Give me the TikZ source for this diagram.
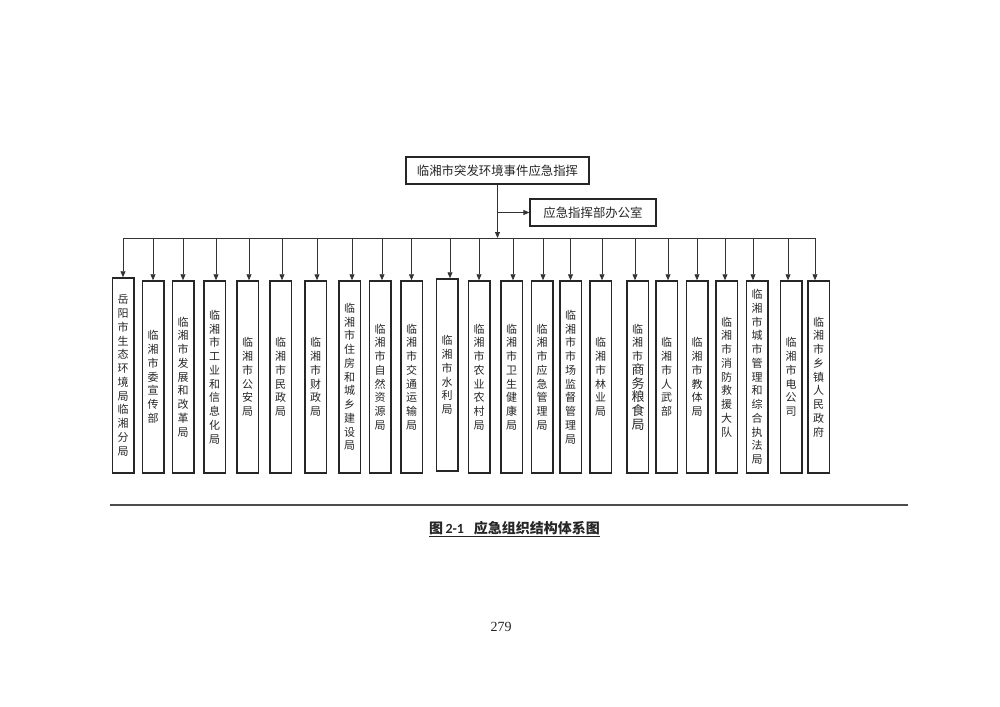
\documentclass[tikz,border=0pt]{standalone}
\usepackage{fontspec}
\usepackage{xcolor}
\usepackage{tikz}
\usetikzlibrary{arrows.meta}
\setmainfont{Liberation Serif}
\newfontfamily\cjk{Noto Sans CJK SC}
\newfontfamily\capfont{Carlito}
\XeTeXlinebreaklocale "zh"
\XeTeXlinebreakskip=0pt plus 1pt

\begin{document}
\begin{tikzpicture}[x=1pt,y=-1pt,
	head/.style={rectangle,draw=black!85,line width=1.2pt,minimum width=183pt,minimum height=27pt,font=\cjk\fontsize{12.4}{14}\selectfont,text=black!85},
	unit/.style={rectangle,draw=black!85,line width=1.5pt,minimum width=21.5pt,minimum height=192pt,inner sep=0pt,text width=12pt,align=center,font=\cjk\fontsize{11}{13.75}\selectfont,text=black!85},
	link/.style={draw=black!80,line width=0.8pt},
	feed/.style={link,-{Triangle[length=6pt,width=5pt]}}]
	\useasboundingbox (0,0) rectangle (1000,706);
	\node[head] (cmd) at (497.5,170.5) {临湘市突发环境事件应急指挥};
	\node[head,minimum width=126pt] (office) at (593,212.5) {应急指挥部办公室};
	\coordinate (bus) at (497.5,238);
	\node[unit,minimum height=195pt] (b1) at (123,375.5) {岳阳市生态环境局临湘分局};
	\node[unit] (b2) at (153,377) {临湘市委宣传部};
	\node[unit] (b3) at (183,377) {临湘市发展和改革局};
	\node[unit] (b4) at (214.5,377) {临湘市工业和信息化局};
	\node[unit] (b5) at (247.5,377) {临湘市公安局};
	\node[unit] (b6) at (280.5,377) {临湘市民政局};
	\node[unit] (b7) at (315.5,377) {临湘市财政局};
	\node[unit] (b8) at (349.5,377) {临湘市住房和城乡建设局};
	\node[unit] (b9) at (380,377) {临湘市自然资源局};
	\node[unit] (b10) at (411.5,377) {临湘市交通运输局};
	\node[unit] (b11) at (447,375) {临湘市水利局};
	\node[unit] (b12) at (479,377) {临湘市农业农村局};
	\node[unit] (b13) at (511.5,377) {临湘市卫生健康局};
	\node[unit] (b14) at (542,377) {临湘市应急管理局};
	\node[unit] (b15) at (570.5,377) {临湘市市场监督管理局};
	\node[unit] (b16) at (600.5,377) {临湘市林业局};
	\node[unit] (b17) at (637.5,377) {临湘市\\\fontsize{13}{13.75}\selectfont 商务粮食局};
	\node[unit] (b18) at (666.5,377) {临湘市人武部};
	\node[unit] (b19) at (697,377) {临湘市教体局};
	\node[unit] (b20) at (726.5,377) {临湘市消防救援大队};
	\node[unit] (b21) at (757,377) {临湘市城市管理和综合执法局};
	\node[unit] (b22) at (791,377) {临湘市电公司};
	\node[unit] (b23) at (818.5,377) {临湘市乡镇人民政府};
	\draw[feed] (cmd.south) -- (bus);
	\draw[feed] (cmd.south |- office.west) -- (office.west);
	\draw[link] (b1.north |- bus) -- ([xshift=-3.5pt]b23.north |- bus);
	\draw[feed] (b1.north |- bus) -- (b1.north);
	\draw[feed] (b2.north |- bus) -- (b2.north);
	\draw[feed] (b3.north |- bus) -- (b3.north);
	\draw[feed] ([xshift=1.5pt]b4.north |- bus) -- ([xshift=1.5pt]b4.north);
	\draw[feed] ([xshift=1.5pt]b5.north |- bus) -- ([xshift=1.5pt]b5.north);
	\draw[feed] ([xshift=1.5pt]b6.north |- bus) -- ([xshift=1.5pt]b6.north);
	\draw[feed] ([xshift=1.5pt]b7.north |- bus) -- ([xshift=1.5pt]b7.north);
	\draw[feed] ([xshift=2.5pt]b8.north |- bus) -- ([xshift=2.5pt]b8.north);
	\draw[feed] ([xshift=2pt]b9.north |- bus) -- ([xshift=2pt]b9.north);
	\draw[feed] (b10.north |- bus) -- (b10.north);
	\draw[feed] ([xshift=3pt]b11.north |- bus) -- ([xshift=3pt]b11.north);
	\draw[feed] (b12.north |- bus) -- (b12.north);
	\draw[feed] ([xshift=1.5pt]b13.north |- bus) -- ([xshift=1.5pt]b13.north);
	\draw[feed] ([xshift=1pt]b14.north |- bus) -- ([xshift=1pt]b14.north);
	\draw[feed] (b15.north |- bus) -- (b15.north);
	\draw[feed] ([xshift=1.5pt]b16.north |- bus) -- ([xshift=1.5pt]b16.north);
	\draw[feed] ([xshift=-2.5pt]b17.north |- bus) -- ([xshift=-2.5pt]b17.north);
	\draw[feed] ([xshift=1.5pt]b18.north |- bus) -- ([xshift=1.5pt]b18.north);
	\draw[feed] (b19.north |- bus) -- (b19.north);
	\draw[feed] ([xshift=-1.5pt]b20.north |- bus) -- ([xshift=-1.5pt]b20.north);
	\draw[feed] ([xshift=-4pt]b21.north |- bus) -- ([xshift=-4pt]b21.north);
	\draw[feed] ([xshift=-3pt]b22.north |- bus) -- ([xshift=-3pt]b22.north);
	\draw[feed] ([xshift=-3.5pt]b23.north |- bus) -- ([xshift=-3.5pt]b23.north);
	% rule and caption
	\coordinate (ruleL) at (110,505);
	\coordinate (ruleR) at (908,505);
	\draw[draw=black!70,line width=1.3pt] (ruleL) -- (ruleR);
	\node[text=black!85] (caption) at (514.5,529) {\underline{{\cjk\bfseries\fontsize{14}{16}\selectfont 图} {\capfont\bfseries\fontsize{14}{16}\selectfont 2-1}\quad{\cjk\bfseries\fontsize{14}{16}\selectfont 应急组织结构体系图}}};
	\node[text=black!85,font=\fontsize{14}{16}\selectfont] (page) at (501,627) {279};
\end{tikzpicture}
\end{document}
